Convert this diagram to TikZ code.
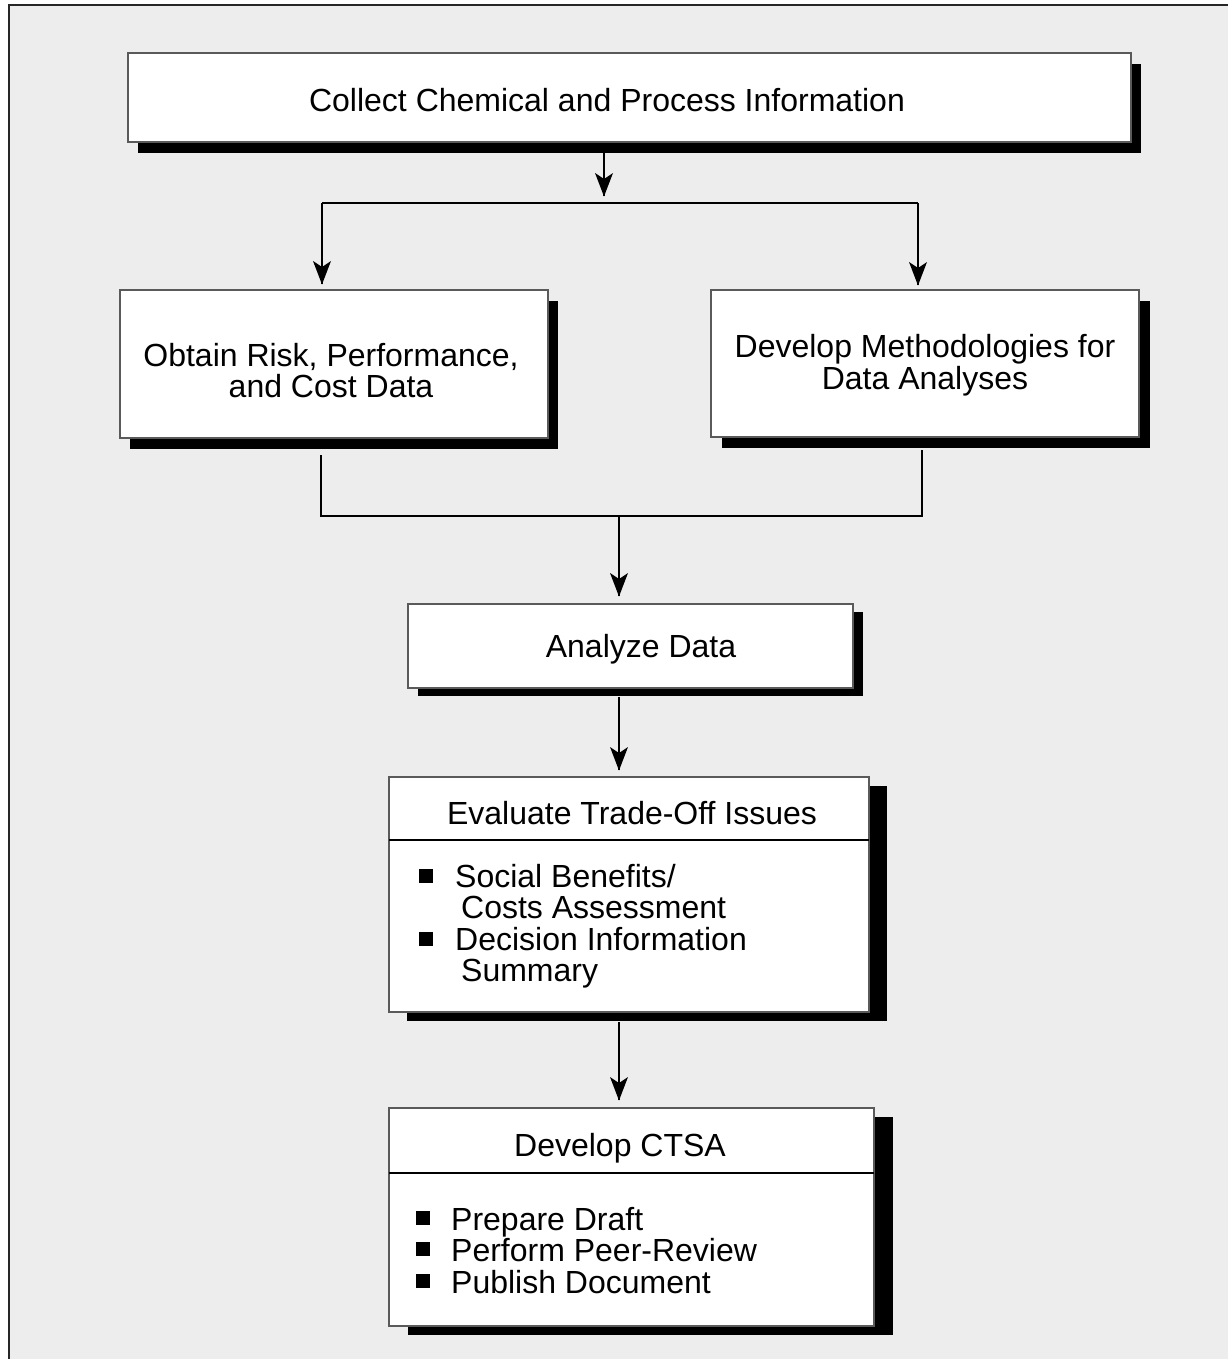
\documentclass[tikz,border=0pt]{standalone}
\usepackage{fontspec}
\setmainfont{Liberation Sans}
\usetikzlibrary{calc,shadows,decorations.markings}
\definecolor{panel}{HTML}{EDEDED}
\definecolor{edge}{HTML}{5A5A5A}
\begin{document}
\begin{tikzpicture}[x=1pt,y=-1pt,
  box/.style={draw=edge, line width=1.4pt, fill=white, anchor=north west,
    inner sep=0pt, outer sep=0pt},
  shade/.style 2 args={drop shadow={shadow xshift=#1pt, shadow yshift=-#2pt,
    fill=black, opacity=1}},
  label/.style={font=\fontsize{32}{31}\selectfont, inner sep=0pt, anchor=base},
  item/.style={label, anchor=base west},
  conn/.style={line width=1.5pt, draw=black},
  % solid barbed arrowhead placed at the end of the connector
  arr/.style={conn, postaction={decorate}, decoration={markings,
    mark=at position 1 with {\fill[black] (0.5pt,0pt) -- (-23pt,9pt)
      -- (-17pt,0pt) -- (-23pt,-9pt) -- cycle;}}},
  bullet/.style={fill=black, minimum size=14pt, inner sep=0pt, anchor=north west},
  rule/.style={line width=1.6pt, draw=black}
]
% page and framed panel
\fill[white] (0,0) rectangle (1227,1359);
\useasboundingbox (0,0) rectangle (1227,1359);
\filldraw[fill=panel, draw=black!85, line width=2pt] (9,5) rectangle (1260,1390);

% boxes
\node[box, shade={10}{11}, minimum width=1003pt, minimum height=89pt] (collect) at (128,53) {};
\node[box, shade={10}{11}, minimum width=428pt, minimum height=148pt] (obtain) at (120,290) {};
\node[box, shade={11}{11}, minimum width=428pt, minimum height=147pt] (methods) at (711,290) {};
\node[box, shade={10}{8}, minimum width=445pt, minimum height=84pt] (analyze) at (408,604) {};
\node[box, shade={18}{9}, minimum width=480pt, minimum height=235pt] (evaluate) at (389,777) {};
\node[box, shade={19}{9}, minimum width=485pt, minimum height=218pt] (ctsa) at (389,1108) {};

% box texts
\node[label] (collectText) at (607,112) {Collect Chemical and Process Information};
\node[label] (obtainA) at (331,366) {Obtain Risk, Performance,};
\node[label] (obtainB) at (331,397) {and Cost Data};
\node[label] (methodsA) at (925,357) {Develop Methodologies for};
\node[label] (methodsB) at (925,389) {Data Analyses};
\node[label] (analyzeText) at (641,657) {Analyze Data};

% trade-off box
\node[label] (evalTitle) at (632,824) {Evaluate Trade-Off Issues};
\coordinate (evalRule) at (0,840);
\draw[rule] (evaluate.west |- evalRule) -- (evaluate.east |- evalRule);
\node[bullet] (evalB1) at (419,869) {};
\node[item] (evalI1a) at (455,887) {Social Benefits/};
\node[item] (evalI1b) at (461,918) {Costs Assessment};
\node[bullet] (evalB2) at (419,932) {};
\node[item] (evalI2a) at (455,950) {Decision Information};
\node[item] (evalI2b) at (461,981) {Summary};

% CTSA box
\node[label] (ctsaTitle) at (620,1156) {Develop CTSA};
\coordinate (ctsaRule) at (0,1173);
\draw[rule] (ctsa.west |- ctsaRule) -- (ctsa.east |- ctsaRule);
\node[bullet] (ctsaB1) at (416,1211) {};
\node[item] (ctsaI1) at (451,1230) {Prepare Draft};
\node[bullet] (ctsaB2) at (416,1242) {};
\node[item] (ctsaI2) at (451,1261) {Perform Peer-Review};
\node[bullet] (ctsaB3) at (416,1274) {};
\node[item] (ctsaI3) at (451,1293) {Publish Document};

% fork below the first box
\coordinate (fork) at (604,203);
\coordinate (forkL) at (322,203);
\coordinate (forkR) at (918,203);
\draw[arr] ($(collect.south -| fork)+(0,11)$) -- ($(fork)+(0,-7)$);
\draw[conn] (forkL) -- (forkR);
\draw[arr] (forkL) -- ($(forkL |- obtain.north)+(0,-6)$);
\draw[arr] (forkR) -- ($(forkR |- methods.north)+(0,-5)$);

% join and the main chain
\coordinate (joinL) at (321,516);
\coordinate (joinR) at (922,516);
\coordinate (join) at (619,516);
\draw[conn] ($(obtain.south -| joinL)+(0,17)$) -- (joinL) -- (joinR)
  -- ($(methods.south -| joinR)+(0,13)$);
\draw[arr] (join) -- ($(join |- analyze.north)+(0,-8)$);
\draw[arr] ($(analyze.south -| join)+(0,9)$) -- ($(join |- evaluate.north)+(0,-7)$);
\draw[arr] ($(evaluate.south -| join)+(0,10)$) -- ($(join |- ctsa.north)+(0,-8)$);
\end{tikzpicture}
\end{document}
